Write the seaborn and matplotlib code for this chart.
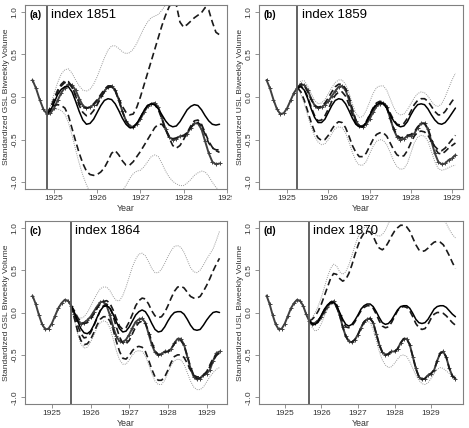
import numpy as np
import matplotlib
matplotlib.use("Agg")
import matplotlib.pyplot as plt
from matplotlib.transforms import Bbox, TransformedBbox
import seaborn as sns

sns.set_style("ticks")
plt.rcParams["font.family"] = ["Liberation Sans", "DejaVu Sans"]
plt.rcParams["axes.unicode_minus"] = False

# ---- data: monthly points starting mid 1924 ----
start_year = 1924.5
observed = [
    0.20, 0.10, -0.03, -0.14, -0.20, -0.19, -0.13, -0.04, 0.05, 0.11, 0.15, 0.14,
    0.08, -0.02, -0.10, -0.13, -0.12, -0.09, -0.05, 0.01, 0.07, 0.12, 0.13, 0.08,
    -0.03, -0.17, -0.28, -0.34, -0.35, -0.32, -0.26, -0.18, -0.11, -0.08, -0.07, -0.12,
    -0.25, -0.38, -0.47, -0.50, -0.49, -0.46, -0.46, -0.43, -0.36, -0.31, -0.31, -0.38,
    -0.52, -0.66, -0.76, -0.79, -0.78, -0.74, -0.72, -0.68, -0.57, -0.48, -0.46, -0.53,
    -0.66, -0.75, -0.78,
]

# panel (a), index 1851: forecasts from month 4 to 52
a_solid = [-0.20, -0.16, -0.07, 0.03, 0.09, 0.12,
           0.12, 0.06, -0.05, -0.17, -0.27, -0.32, -0.31, -0.26, -0.18, -0.10, -0.04, -0.02,
           -0.03, -0.08, -0.16, -0.25, -0.32, -0.36, -0.36, -0.31, -0.24, -0.16, -0.10, -0.08,
           -0.09, -0.14, -0.21, -0.28, -0.33, -0.35, -0.34, -0.29, -0.22, -0.15, -0.11, -0.09,
           -0.10, -0.15, -0.22, -0.28, -0.32, -0.33, -0.32]
a_dash_hi = [-0.20, -0.13, -0.02, 0.08, 0.15, 0.19,
             0.18, 0.12, 0.02, -0.07, -0.12, -0.13, -0.12, -0.08, -0.03, 0.03, 0.09, 0.13,
             0.13, 0.08, -0.02, -0.11, -0.18, -0.21, -0.20, -0.12, 0.00, 0.14, 0.28, 0.42,
             0.56, 0.70, 0.84, 0.96, 1.06, 1.12, 1.08, 0.88, 0.82, 0.85, 0.89, 0.93,
             0.96, 0.99, 1.05, 1.02, 0.88, 0.76, 0.73]
a_dash_mid = [-0.20, -0.14, -0.04, 0.06, 0.13, 0.17,
              0.17, 0.11, 0.01, -0.10, -0.18, -0.22, -0.21, -0.16, -0.09, -0.01, 0.06, 0.11,
              0.12, 0.07, -0.04, -0.17, -0.28, -0.34, -0.35, -0.31, -0.24, -0.16, -0.10, -0.08,
              -0.09, -0.15, -0.26, -0.38, -0.46, -0.49, -0.48, -0.46, -0.45, -0.42, -0.36, -0.31,
              -0.30, -0.34, -0.44, -0.54, -0.60, -0.62, -0.62]
a_dash_lo = [-0.20, -0.12, -0.10, -0.09, -0.10, -0.13,
             -0.22, -0.37, -0.52, -0.66, -0.78, -0.87, -0.91, -0.92, -0.91, -0.88, -0.83, -0.75,
             -0.66, -0.63, -0.68, -0.75, -0.80, -0.80, -0.76, -0.70, -0.64, -0.57, -0.50, -0.43,
             -0.36, -0.32, -0.32, -0.38, -0.48, -0.57, -0.60, -0.57, -0.50, -0.42, -0.34, -0.28,
             -0.27, -0.32, -0.42, -0.52, -0.59, -0.63, -0.65]
a_dot_hi = [-0.20, -0.10, 0.04, 0.17, 0.27, 0.32,
            0.33, 0.28, 0.20, 0.13, 0.08, 0.07, 0.09, 0.15, 0.24, 0.35, 0.46, 0.55,
            0.60, 0.60, 0.57, 0.53, 0.51, 0.52, 0.56, 0.63, 0.72, 0.81, 0.88, 0.93,
            0.95, 0.97, 1.02, 1.08, 1.16, 1.25, 1.30, 1.32, 1.34, 1.36, 1.40, 1.44,
            1.46, 1.48, 1.50, 1.50, 1.48, 1.46, 1.45]
a_dot_lo = [-0.20, -0.17, -0.15, -0.14, -0.16, -0.20,
            -0.30, -0.45, -0.62, -0.78, -0.92, -1.03, -1.12, -1.18, -1.22, -1.22, -1.20, -1.16,
            -1.12, -1.12, -1.12, -1.10, -1.04, -0.96, -0.90, -0.87, -0.86, -0.82, -0.76, -0.70,
            -0.68, -0.70, -0.78, -0.87, -0.94, -0.99, -1.02, -1.04, -1.04, -1.01, -0.97, -0.92,
            -0.89, -0.87, -0.88, -0.93, -1.00, -1.06, -1.10]

# panel (b), index 1859: months 9 to 55
b_solid = [0.11,
           0.12, 0.08, -0.02, -0.14, -0.24, -0.30, -0.30, -0.26, -0.18, -0.10, -0.04, -0.02,
           -0.03, -0.08, -0.16, -0.25, -0.32, -0.35, -0.35, -0.30, -0.22, -0.14, -0.09, -0.07,
           -0.08, -0.13, -0.21, -0.28, -0.33, -0.35, -0.34, -0.29, -0.21, -0.14, -0.09, -0.08,
           -0.09, -0.14, -0.21, -0.27, -0.31, -0.32, -0.30, -0.25, -0.19, -0.13]
b_dash_hi = [0.11,
             0.15, 0.13, 0.06, -0.03, -0.10, -0.12, -0.11, -0.07, -0.01, 0.06, 0.12, 0.15,
             0.15, 0.10, 0.00, -0.14, -0.27, -0.34, -0.34, -0.29, -0.21, -0.13, -0.07, -0.05,
             -0.06, -0.11, -0.19, -0.27, -0.32, -0.33, -0.31, -0.25, -0.17, -0.09, -0.04, -0.02,
             -0.02, -0.05, -0.11, -0.17, -0.21, -0.21, -0.17, -0.11, -0.05, 0.00]
b_dash_mid = [0.11,
              0.13, 0.09, 0.00, -0.12, -0.22, -0.28, -0.27, -0.22, -0.14, -0.05, 0.02, 0.06,
              0.06, 0.01, -0.09, -0.21, -0.31, -0.35, -0.35, -0.30, -0.22, -0.14, -0.08, -0.06,
              -0.07, -0.13, -0.25, -0.37, -0.45, -0.48, -0.47, -0.45, -0.44, -0.41, -0.35, -0.31,
              -0.31, -0.37, -0.49, -0.60, -0.66, -0.67, -0.64, -0.60, -0.57, -0.54]
b_dash_lo = [0.11,
             0.06, -0.04, -0.17, -0.30, -0.41, -0.48, -0.51, -0.50, -0.45, -0.38, -0.32, -0.29,
             -0.30, -0.36, -0.46, -0.57, -0.65, -0.70, -0.70, -0.66, -0.58, -0.50, -0.44, -0.42,
             -0.42, -0.46, -0.54, -0.62, -0.68, -0.70, -0.69, -0.63, -0.54, -0.46, -0.41, -0.40,
             -0.41, -0.45, -0.52, -0.58, -0.62, -0.63, -0.60, -0.55, -0.50, -0.45]
b_dot_hi = [0.11,
            0.19, 0.19, 0.13, 0.04, -0.04, -0.08, -0.07, -0.03, 0.04, 0.11, 0.17, 0.20,
            0.20, 0.15, 0.05, -0.08, -0.19, -0.24, -0.23, -0.16, -0.06, 0.04, 0.11, 0.13,
            0.13, 0.08, -0.02, -0.12, -0.19, -0.21, -0.20, -0.15, -0.08, -0.01, 0.04, 0.06,
            0.05, 0.01, -0.05, -0.10, -0.11, -0.08, 0.00, 0.10, 0.20, 0.28]
b_dot_lo = [0.11,
            0.03, -0.08, -0.22, -0.35, -0.46, -0.53, -0.56, -0.55, -0.50, -0.43, -0.37, -0.35,
            -0.36, -0.42, -0.53, -0.65, -0.75, -0.80, -0.80, -0.76, -0.67, -0.58, -0.52, -0.50,
            -0.51, -0.56, -0.65, -0.75, -0.82, -0.85, -0.84, -0.78, -0.66, -0.54, -0.47, -0.45,
            -0.46, -0.52, -0.64, -0.76, -0.84, -0.86, -0.85, -0.83, -0.81, -0.80]

# panel (c), index 1864: months 12 to 58
c_solid = [0.08, 0.00, -0.10, -0.19, -0.24, -0.25, -0.22, -0.15, -0.06, 0.02,
           0.07, 0.08, 0.05, -0.02, -0.11, -0.19, -0.23, -0.22, -0.17, -0.10, -0.03, 0.01,
           0.03, 0.01, -0.05, -0.13, -0.20, -0.23, -0.22, -0.17, -0.10, -0.04, 0.00, 0.01,
           0.01, -0.02, -0.08, -0.15, -0.20, -0.21, -0.20, -0.15, -0.09, -0.04, 0.00, 0.01, 0.00]
c_dash_hi = [0.08, 0.02, -0.06, -0.11, -0.13, -0.12, -0.08, -0.02, 0.05, 0.10,
             0.13, 0.14, 0.11, 0.03, -0.07, -0.16, -0.20, -0.18, -0.11, -0.02, 0.08, 0.14,
             0.17, 0.16, 0.10, 0.02, -0.04, -0.06, -0.05, 0.00, 0.08, 0.17, 0.25, 0.30,
             0.31, 0.29, 0.24, 0.19, 0.17, 0.17, 0.19, 0.25, 0.32, 0.40, 0.49, 0.57, 0.64]
c_dash_mid = [0.08, -0.03, -0.15, -0.25, -0.30, -0.29, -0.24, -0.16, -0.07, 0.02,
              0.08, 0.10, 0.06, -0.04, -0.17, -0.29, -0.36, -0.37, -0.33, -0.25, -0.17, -0.12,
              -0.10, -0.13, -0.22, -0.35, -0.45, -0.50, -0.49, -0.47, -0.46, -0.43, -0.37, -0.33,
              -0.33, -0.39, -0.51, -0.64, -0.74, -0.78, -0.77, -0.74, -0.70, -0.62, -0.54, -0.50, -0.48]
c_dash_lo = [0.08, -0.07, -0.22, -0.33, -0.38, -0.37, -0.32, -0.24, -0.15, -0.08,
             -0.05, -0.05, -0.10, -0.20, -0.34, -0.46, -0.54, -0.55, -0.51, -0.45, -0.41, -0.40,
             -0.41, -0.46, -0.56, -0.67, -0.76, -0.80, -0.80, -0.76, -0.68, -0.59, -0.52, -0.50,
             -0.50, -0.53, -0.60, -0.68, -0.74, -0.76, -0.76, -0.74, -0.70, -0.64, -0.57, -0.51, -0.47]
c_dot_hi = [0.08, 0.01, -0.05, -0.07, -0.05, 0.00, 0.07, 0.15, 0.22, 0.28,
            0.30, 0.30, 0.26, 0.19, 0.14, 0.14, 0.20, 0.30, 0.42, 0.54, 0.63, 0.69,
            0.70, 0.67, 0.60, 0.52, 0.47, 0.47, 0.51, 0.58, 0.66, 0.73, 0.78, 0.79,
            0.77, 0.71, 0.62, 0.53, 0.48, 0.47, 0.50, 0.56, 0.63, 0.69, 0.75, 0.85, 0.96]
c_dot_lo = [0.08, -0.08, -0.25, -0.37, -0.42, -0.41, -0.35, -0.27, -0.18, -0.12,
            -0.10, -0.11, -0.18, -0.31, -0.45, -0.56, -0.61, -0.61, -0.56, -0.50, -0.46, -0.45,
            -0.46, -0.51, -0.61, -0.72, -0.81, -0.85, -0.85, -0.80, -0.71, -0.62, -0.57, -0.55,
            -0.56, -0.61, -0.71, -0.81, -0.88, -0.91, -0.91, -0.88, -0.82, -0.76, -0.71, -0.67, -0.65]

# panel (d), index 1870: months 14 to 62
d_solid = [-0.10, -0.13, -0.14, -0.10, -0.03, 0.04, 0.09, 0.12,
           0.12, 0.08, 0.00, -0.08, -0.14, -0.16, -0.14, -0.09, -0.03, 0.04, 0.08, 0.10,
           0.10, 0.07, 0.01, -0.06, -0.12, -0.14, -0.13, -0.09, -0.03, 0.03, 0.07, 0.08,
           0.08, 0.05, -0.01, -0.08, -0.12, -0.13, -0.12, -0.08, -0.02, 0.04, 0.07, 0.08,
           0.08, 0.06, 0.02, -0.02, -0.05]
d_dash_hi = [-0.10, -0.08, -0.04, 0.02, 0.10, 0.20, 0.30, 0.40,
             0.46, 0.45, 0.40, 0.37, 0.39, 0.46, 0.56, 0.68, 0.79, 0.88, 0.94, 0.96,
             0.95, 0.90, 0.82, 0.76, 0.74, 0.77, 0.83, 0.90, 0.96, 1.00, 1.03, 1.03,
             1.01, 0.96, 0.88, 0.80, 0.74, 0.72, 0.73, 0.76, 0.80, 0.83, 0.84, 0.83,
             0.80, 0.74, 0.67, 0.59, 0.52]
d_dash_mid = [-0.10, -0.14, -0.15, -0.11, -0.04, 0.03, 0.08, 0.11,
              0.11, 0.06, -0.03, -0.11, -0.17, -0.18, -0.16, -0.11, -0.04, 0.02, 0.06, 0.08,
              0.08, 0.05, -0.02, -0.10, -0.16, -0.18, -0.17, -0.12, -0.05, 0.02, 0.06, 0.07,
              0.06, 0.02, -0.05, -0.13, -0.18, -0.20, -0.19, -0.14, -0.07, -0.02, 0.00, 0.00,
              -0.01, -0.04, -0.08, -0.12, -0.15]
d_dash_lo = [-0.10, -0.14, -0.14, -0.10, -0.04, 0.02, 0.08, 0.12,
             0.13, 0.08, -0.03, -0.17, -0.28, -0.34, -0.35, -0.32, -0.26, -0.18, -0.11, -0.08,
             -0.07, -0.12, -0.25, -0.38, -0.47, -0.50, -0.49, -0.46, -0.46, -0.43, -0.36, -0.31,
             -0.31, -0.38, -0.52, -0.66, -0.76, -0.79, -0.78, -0.74, -0.72, -0.68, -0.57, -0.48,
             -0.46, -0.53, -0.66, -0.75, -0.78]
d_dot_hi = [-0.10, -0.06, 0.00, 0.08, 0.18, 0.30, 0.42, 0.52,
            0.57, 0.55, 0.48, 0.45, 0.48, 0.56, 0.67, 0.79, 0.89, 0.96, 1.00, 1.01,
            0.99, 0.95, 0.91, 0.90, 0.92, 0.97, 1.05, 1.14, 1.22, 1.28, 1.32, 1.34,
            1.34, 1.32, 1.28, 1.22, 1.18, 1.16, 1.17, 1.20, 1.22, 1.22, 1.20, 1.15,
            1.10, 1.05, 0.98, 0.92, 0.88]
d_dot_lo = [-0.10, -0.18, -0.22, -0.20, -0.13, -0.04, 0.04, 0.09,
            0.10, 0.05, -0.05, -0.18, -0.29, -0.35, -0.36, -0.33, -0.27, -0.19, -0.12, -0.10,
            -0.12, -0.20, -0.33, -0.46, -0.56, -0.62, -0.65, -0.64, -0.60, -0.55, -0.51, -0.50,
            -0.52, -0.58, -0.66, -0.74, -0.80, -0.84, -0.85, -0.83, -0.78, -0.72, -0.67, -0.65,
            -0.66, -0.69, -0.72, -0.74, -0.75]

panel_letters = ["(a)", "(b)", "(c)", "(d)"]
panel_index = ["index 1851", "index 1859", "index 1864", "index 1870"]
forecast_start = [4, 9, 12, 14]
ylabels = ["Standardized GSL Biweekly Volume", "Standardized USL Biweekly Volume",
           "Standardized GSL Biweekly Volume", "Standardized USL Biweekly Volume"]
year_ticks = [1925, 1926, 1927, 1928, 1929]
value_ticks = [-1.0, -0.5, 0.0, 0.5, 1.0]

months = start_year + np.arange(len(observed)) / 12
observed = np.array(observed)

panels = [
    (a_solid, a_dash_hi, a_dash_mid, a_dash_lo, a_dot_hi, a_dot_lo),
    (b_solid, b_dash_hi, b_dash_mid, b_dash_lo, b_dot_hi, b_dot_lo),
    (c_solid, c_dash_hi, c_dash_mid, c_dash_lo, c_dot_hi, c_dot_lo),
    (d_solid, d_dash_hi, d_dash_mid, d_dash_lo, d_dot_hi, d_dot_lo),
]

fig = plt.figure(figsize=(4.69, 4.28), dpi=100)
rects = [
    [25 / 469, 1 - 189 / 428, 202 / 469, 184 / 428],
    [259 / 469, 1 - 189 / 428, 204 / 469, 184 / 428],
    [25 / 469, 1 - 404 / 428, 202 / 469, 183 / 428],
    [259 / 469, 1 - 404 / 428, 204 / 469, 183 / 428],
]
# each panel's drawing region (labels outside it get cut, like the original)
regions = [
    [[0, 0.5], [232 / 469, 1]],
    [[232 / 469, 0.5], [1, 1]],
    [[0, 0], [232 / 469, 0.5]],
    [[232 / 469, 0], [1, 0.5]],
]

frame_col = "#808080"
text_col = "#333333"
obs_col = "#404040"

for i, (lines, k0) in enumerate(zip(panels, forecast_start)):
    ax = fig.add_axes(rects[i])
    solid, dash_hi, dash_mid, dash_lo, dot_hi, dot_lo = lines
    k1 = k0 + len(solid)
    tf = months[k0:k1]

    for vals in (dot_hi, dot_lo):
        sns.lineplot(x=tf, y=vals, ax=ax, color="#9a9a9a", lw=0.7,
                     linestyle=(0, (1, 1.2)), estimator=None, sort=False)
    # observed series: thick grey line with small plus markers
    sns.lineplot(x=months[:k1], y=observed[:k1], ax=ax, color=obs_col, lw=1.4,
                 marker="+", markersize=3, markeredgewidth=0.7,
                 markeredgecolor=obs_col, markerfacecolor=obs_col,
                 estimator=None, sort=False)
    for vals in (dash_hi, dash_mid, dash_lo):
        sns.lineplot(x=tf, y=vals, ax=ax, color="#1a1a1a", lw=1.2,
                     linestyle=(0, (4, 2.2)), estimator=None, sort=False)
    sns.lineplot(x=tf, y=solid, ax=ax, color="black", lw=1.1,
                 estimator=None, sort=False)

    ax.axvline(months[k0], color="#555555", lw=1.3)

    t_end = months[k1 - 1]
    pad = 0.04 * (t_end - start_year)
    ax.set_xlim(start_year - pad, t_end + pad)
    ax.set_ylim(-1.08, 1.08)
    ax.set_xticks(year_ticks)
    ax.set_yticks(value_ticks)
    ax.set_yticklabels([f"{v:.1f}" for v in value_ticks])
    for lab in ax.get_yticklabels():
        lab.set_rotation(90)
        lab.set_va("center")

    ax.tick_params(direction="out", length=3, width=0.6, colors=frame_col,
                   labelcolor=text_col, labelsize=6, pad=1.5)
    region = TransformedBbox(Bbox(regions[i]), fig.transFigure)
    for lab in ax.get_xticklabels():
        lab.set_clip_on(True)
        lab.set_clip_box(region)
    for sp in ax.spines.values():
        sp.set_visible(True)
        sp.set_color(frame_col)
        sp.set_linewidth(0.8)

    ax.set_xlabel("Year", fontsize=6.3, color=text_col, labelpad=1)
    ax.set_ylabel(ylabels[i], fontsize=6.1, color=text_col, labelpad=1)

    ax.text(0.02, 0.945, panel_letters[i], transform=ax.transAxes,
            fontsize=7, fontweight="bold", color="black", ha="left", va="center")
    ax.annotate(panel_index[i], xy=(months[k0], 0.945),
                xycoords=("data", "axes fraction"), xytext=(3, 0),
                textcoords="offset points", fontsize=9.5, color="black",
                ha="left", va="center")

fig.savefig("out.png", dpi=100)
